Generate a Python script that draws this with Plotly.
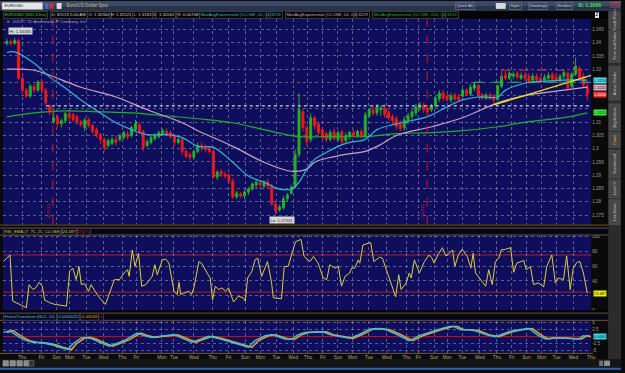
import plotly.graph_objects as go

# ---------------- data ----------------
BAR = list(range(150))
OPEN = [1.3397,1.3404,1.3397,1.3408,1.3266,1.3221,1.3199,1.3236,1.3221,1.3251,
 1.3221,1.3162,1.3102,1.3117,1.3094,1.3106,1.3132,1.3128,1.3121,1.3102,
 1.3080,1.3109,1.3087,1.3072,1.3053,1.3035,1.3012,1.3020,1.3035,1.3035,
 1.3042,1.3057,1.3050,1.3072,1.3091,1.3065,1.3012,1.3024,1.3038,1.3046,
 1.3057,1.3065,1.3061,1.3046,1.3024,1.3035,1.2990,1.2979,1.2968,1.2990,
 1.3012,1.3005,1.3001,1.2990,1.2893,1.2915,1.2904,1.2900,1.2878,1.2818,
 1.2830,1.2822,1.2837,1.2848,1.2863,1.2871,1.2859,1.2874,1.2859,1.2792,
 1.2770,1.2777,1.2811,1.2833,1.2856,1.2979,1.3139,1.3080,1.3035,1.3117,
 1.3094,1.3072,1.3057,1.3035,1.3065,1.3035,1.3065,1.3031,1.3046,1.3061,
 1.3050,1.3065,1.3050,1.3124,1.3147,1.3135,1.3147,1.3154,1.3139,1.3121,
 1.3113,1.3094,1.3080,1.3106,1.3121,1.3135,1.3154,1.3165,1.3154,1.3147,
 1.3162,1.3188,1.3210,1.3199,1.3184,1.3203,1.3195,1.3199,1.3221,1.3206,
 1.3229,1.3236,1.3203,1.3191,1.3203,1.3199,1.3188,1.3236,1.3277,1.3266,
 1.3274,1.3285,1.3266,1.3277,1.3274,1.3259,1.3274,1.3266,1.3259,1.3266,
 1.3281,1.3270,1.3259,1.3274,1.3285,1.3236,1.3281,1.3303,1.3274,1.3234]
HIGH = [1.3415,1.3412,1.3419,1.3415,1.3277,1.3229,1.3244,1.3244,1.3259,1.3259,
 1.3229,1.3169,1.3154,1.3128,1.3113,1.3139,1.3143,1.3135,1.3128,1.3109,
 1.3117,1.3117,1.3094,1.3080,1.3061,1.3042,1.3038,1.3046,1.3050,1.3057,
 1.3068,1.3068,1.3087,1.3109,1.3098,1.3072,1.3035,1.3050,1.3057,1.3068,
 1.3076,1.3076,1.3068,1.3057,1.3042,1.3042,1.2997,1.2986,1.2997,1.3024,
 1.3024,1.3016,1.3009,1.2997,1.2919,1.2923,1.2915,1.2908,1.2889,1.2841,
 1.2837,1.2844,1.2856,1.2874,1.2882,1.2878,1.2882,1.2886,1.2867,1.2800,
 1.2789,1.2822,1.2833,1.2863,1.2997,1.3210,1.3154,1.3091,1.3132,1.3124,
 1.3102,1.3080,1.3065,1.3072,1.3080,1.3068,1.3072,1.3061,1.3068,1.3072,
 1.3072,1.3076,1.3139,1.3154,1.3165,1.3169,1.3162,1.3169,1.3147,1.3132,
 1.3124,1.3109,1.3121,1.3135,1.3147,1.3169,1.3177,1.3173,1.3165,1.3169,
 1.3199,1.3221,1.3221,1.3206,1.3210,1.3210,1.3206,1.3229,1.3229,1.3244,
 1.3251,1.3244,1.3210,1.3210,1.3210,1.3206,1.3244,1.3285,1.3292,1.3292,
 1.3292,1.3292,1.3288,1.3288,1.3285,1.3285,1.3285,1.3277,1.3281,1.3288,
 1.3288,1.3285,1.3281,1.3296,1.3292,1.3292,1.3344,1.3311,1.3285,1.3252]
LOW = [1.3389,1.3389,1.3393,1.3259,1.3210,1.3191,1.3191,1.3210,1.3214,1.3214,
 1.3165,1.3128,1.3094,1.3083,1.3080,1.3098,1.3102,1.3102,1.3091,1.3083,
 1.3065,1.3080,1.3057,1.3042,1.3016,1.2990,1.3005,1.3012,1.3012,1.3027,
 1.3035,1.3035,1.3042,1.3065,1.3057,1.2990,1.3005,1.3016,1.3031,1.3038,
 1.3050,1.3050,1.3038,1.3012,1.3016,1.2975,1.2964,1.2956,1.2960,1.2982,
 1.2990,1.2986,1.2982,1.2886,1.2882,1.2893,1.2889,1.2871,1.2811,1.2811,
 1.2815,1.2811,1.2826,1.2841,1.2852,1.2852,1.2848,1.2848,1.2785,1.2755,
 1.2762,1.2770,1.2800,1.2826,1.2848,1.2968,1.3065,1.3012,1.3024,1.3072,
 1.3050,1.3031,1.3024,1.3027,1.3031,1.3027,1.3016,1.3020,1.3035,1.3042,
 1.3042,1.3038,1.3038,1.3117,1.3124,1.3124,1.3124,1.3117,1.3106,1.3094,
 1.3072,1.3065,1.3068,1.3094,1.3109,1.3124,1.3143,1.3135,1.3128,1.3139,
 1.3154,1.3177,1.3180,1.3177,1.3173,1.3180,1.3177,1.3191,1.3199,1.3199,
 1.3218,1.3195,1.3184,1.3184,1.3184,1.3169,1.3180,1.3229,1.3259,1.3259,
 1.3262,1.3262,1.3259,1.3255,1.3247,1.3251,1.3251,1.3244,1.3251,1.3259,
 1.3251,1.3251,1.3244,1.3262,1.3221,1.3229,1.3274,1.3259,1.3232,1.3181]
CLOSE = [1.3404,1.3397,1.3408,1.3266,1.3221,1.3199,1.3236,1.3221,1.3251,1.3221,
 1.3173,1.3139,1.3117,1.3094,1.3106,1.3132,1.3117,1.3109,1.3102,1.3091,
 1.3109,1.3087,1.3065,1.3053,1.3035,1.3005,1.3031,1.3035,1.3024,1.3050,
 1.3061,1.3046,1.3080,1.3094,1.3065,1.3005,1.3027,1.3042,1.3050,1.3061,
 1.3068,1.3057,1.3046,1.3024,1.3035,1.2990,1.2971,1.2968,1.2990,1.3012,
 1.3005,1.2997,1.2990,1.2893,1.2912,1.2904,1.2897,1.2878,1.2818,1.2833,
 1.2822,1.2837,1.2848,1.2867,1.2874,1.2863,1.2871,1.2859,1.2792,1.2766,
 1.2781,1.2811,1.2826,1.2856,1.2979,1.3147,1.3080,1.3027,1.3117,1.3087,
 1.3061,1.3042,1.3035,1.3061,1.3038,1.3061,1.3027,1.3050,1.3061,1.3050,
 1.3065,1.3046,1.3128,1.3147,1.3135,1.3158,1.3154,1.3128,1.3117,1.3106,
 1.3083,1.3076,1.3109,1.3124,1.3139,1.3158,1.3165,1.3147,1.3139,1.3162,
 1.3191,1.3210,1.3191,1.3184,1.3199,1.3188,1.3184,1.3221,1.3206,1.3232,
 1.3240,1.3203,1.3191,1.3203,1.3191,1.3184,1.3236,1.3274,1.3266,1.3285,
 1.3281,1.3270,1.3277,1.3266,1.3255,1.3274,1.3259,1.3255,1.3270,1.3277,
 1.3262,1.3259,1.3274,1.3288,1.3229,1.3281,1.3311,1.3266,1.3240,1.3206]

EMA20_X = [0,2,7,11,15,19,24,28,32,36,41,45,49,53,58,62,66,70,73,75,77,79,82,85,88,92,95,100,108,113,117,121,126,128,133,138,143,149]
EMA20 = [1.3363,1.3365,1.3322,1.3270,1.3229,1.3184,1.3135,1.3098,1.3072,1.3053,1.3053,1.3042,1.3009,1.3005,1.2949,1.2897,1.2874,1.2848,1.2848,1.2874,1.2923,1.2960,1.2986,1.3009,1.3024,1.3035,1.3072,1.3094,1.3121,1.3158,1.3184,1.3195,1.3195,1.3221,1.3247,1.3255,1.3259,1.3259]
EMA50_X = [0,7,11,19,28,36,45,49,58,66,73,77,79,83,87,92,96,100,109,117,126,134,143,149]
EMA50 = [1.3300,1.3296,1.3277,1.3232,1.3195,1.3147,1.3098,1.3068,1.3009,1.2949,1.2915,1.2923,1.2949,1.2967,1.2979,1.2990,1.3016,1.3050,1.3083,1.3117,1.3173,1.3203,1.3221,1.3232]
EMA200_X = [0,7,15,24,32,41,49,58,66,75,83,92,100,109,117,126,134,143,149]
EMA200 = [1.3120,1.3135,1.3143,1.3139,1.3135,1.3124,1.3113,1.3098,1.3072,1.3046,1.3046,1.3046,1.3057,1.3061,1.3068,1.3083,1.3102,1.3117,1.3135]

TREND_X = [125, 150]
TREND_P = [1.3165, 1.3277]
SUPPORT_P = 1.3162
SUPPORT_FROM = 10
RESIST_P = 1.3296
RESIST_FROM = 127
BOXLOW_P = 1.3251
BOXLOW_FROM = 120
BOXLOW_DROP = 1.3225
EXPIRY_X = [11.8, 107.9]
EXPIRY_TXT = ["6/21/13", "7/19/13"]

RSI_X = [-0.9,0.8,1.5,2.1,3.3,5.0,5.7,6.7,7.4,8.3,9.1,9.7,11.0,12.3,14.0,15.3,16.1,16.9,17.8,18.5,
 19.1,19.9,21.0,21.6,22.9,23.8,25.3,26.3,27.6,28.9,30.1,31.0,31.4,32.2,32.9,33.8,34.6,35.7,37.3,38.0,
 38.6,39.9,40.8,41.6,42.9,43.7,44.2,44.6,45.9,46.7,47.4,48.0,49.3,50.1,51.4,52.2,52.8,53.5,54.4,55.2,
 56.1,56.9,58.2,59.4,60.7,61.2,61.8,62.9,63.7,64.4,65.4,66.9,67.9,68.4,70.5,71.2,72.2,73.1,74.1,75.5,
 76.3,77.8,78.7,79.9,81.2,82.1,82.9,84.2,85.1,85.9,86.8,88.0,88.5,89.3,90.2,90.6,91.4,92.7,93.4,94.2,
 95.7,96.4,97.4,98.7,99.8,100.6,101.2,102.5,103.3,103.8,104.6,105.9,107.2,108.4,109.1,109.7,110.6,111.8,112.7,113.6,
 114.4,115.0,115.9,116.9,118.2,119.1,119.7,120.3,121.2,122.9,123.7,124.6,125.4,126.3,126.9,128.0,129.3,130.1,130.9,132.1,
 132.7,133.3,134.4,135.2,136.5,137.8,138.6,139.9,140.8,141.6,142.9,143.7,144.6,145.4,146.3,147.1,148.0,149.0]
RSI = [66.2,75.1,12.9,11.6,8.4,4.0,35.1,28.4,30.7,38.2,32.9,14.2,10.7,8.4,7.1,6.2,52.9,57.3,41.8,59.6,
 35.1,36.4,26.2,35.1,24.0,17.3,8.4,21.8,41.8,41.8,50.7,55.1,46.2,81.8,59.6,77.3,32.9,35.1,46.2,61.8,
 48.4,68.4,69.3,64.0,26.2,21.8,38.2,21.8,24.0,26.2,21.8,30.7,66.2,63.1,50.7,44.0,14.2,32.9,28.4,30.7,
 26.2,30.7,11.6,19.5,17.3,12.9,44.0,52.9,68.4,70.7,46.2,66.2,39.6,17.3,16.0,59.6,59.6,75.1,92.9,96.0,
 72.9,66.2,72.9,64.0,44.0,41.8,61.8,57.3,59.6,32.9,46.2,50.7,57.3,57.3,68.4,64.0,88.4,90.7,91.6,66.2,
 72.0,70.7,55.1,32.9,18.7,48.4,28.4,37.3,50.7,44.0,68.4,50.7,66.2,75.1,70.7,64.0,75.1,84.9,73.8,77.3,
 81.8,59.6,75.1,82.7,72.9,57.3,77.3,50.7,44.0,32.9,55.1,35.1,66.2,70.7,81.8,82.7,84.9,51.6,64.0,66.2,
 67.6,55.1,59.6,35.1,37.3,32.0,59.6,75.1,37.3,44.0,41.8,73.8,28.4,57.3,64.9,66.2,50.7,23.487]
RSI_OB, RSI_OS = 75, 25

FISH_X = [-0.9,0.8,1.6,3.3,5.0,6.7,9.3,11.8,13.5,15.7,16.9,19.1,20.4,22.0,23.8,26.3,28.9,30.6,32.3,33.5,
 34.8,36.9,39.1,40.8,42.9,45.0,47.5,49.3,51.8,54.4,57.8,62.0,63.7,66.3,68.0,69.7,71.4,73.1,74.8,76.5,
 77.8,79.5,81.2,82.9,84.6,86.3,88.0,90.6,93.1,94.8,97.4,99.9,102.5,103.3,105.9,108.4,111.0,113.6,114.8,115.7,
 116.5,118.6,120.3,122.9,125.4,128.9,131.4,134.0,134.8,136.5,138.2,139.9,142.5,145.0,146.7,148.0,149.0]
FISH = [1.54,2.14,1.29,-0.25,-1.44,-2.04,-2.27,-3.0,-3.82,-4.65,-2.63,-0.49,-0.25,-0.85,-2.04,-3.46,-2.04,-1.08,0.36,1.29,
 0.57,-0.25,0.12,0.36,0.71,-0.49,-2.04,-1.08,0.12,-0.68,-2.04,-3.82,-1.44,0.36,0.71,0.0,-0.85,-0.85,0.71,1.54,
 1.54,1.78,1.78,0.71,0.36,-0.25,-0.6,0.93,2.71,2.95,2.5,0.93,-1.08,-1.44,0.36,1.54,2.71,3.67,3.67,2.95,
 2.5,2.5,2.14,0.71,0.0,1.78,2.5,2.95,2.14,0.36,-0.83,-0.49,-0.49,-0.83,-0.83,0.36,0.0063]

DAY_TICKS = [3.9,8.9,12.8,16.1,20.4,24.8,29.6,33.2,39.8,42.9,48.0,52.8,56.9,61.2,65.1,69.2,73.5,77.3,
 81.1,85.0,88.8,92.9,97.5,102.6,105.6,109.7,113.0,116.9,121.4,125.8,129.6,133.4,137.3,141.1,145.4,150.0]
DAY_NAMES = ["Thu","Fri","Sun","Mon","Tue","Wed","Thu","Fri","Mon","Tue","Wed","Thu","Fri","Sun","Mon","Tue","Wed","Thu",
 "Fri","Sun","Mon","Tue","Wed","Thu","Fri","Sun","Mon","Tue","Wed","Thu","Fri","Sun","Mon","Tue","Wed","Thu"]
PRICE_TICKS = [1.275,1.28,1.285,1.29,1.295,1.3,1.305,1.31,1.315,1.32,1.325,1.33,1.335,1.34,1.345]
# labels under the value boxes (1.315, 1.32, 1.325) are hidden, as in the picture
PRICE_LABELS = ["1.275","1.28","1.285","1.29","1.295","1.3","1.305","1.31","","","","1.33","1.335","1.34","1.345"]
RSI_TICKS = [0,20,40,60,80,100]
RSI_LABELS = ["0","","40","60","80","100"]
FISH_TICKS = [-5,-2.5,2.5,5]
FISH_LABELS = ["-5","-2.5","2.5","5"]

# ---------------- styling ----------------
W, H = 625, 373
def fx(p): return p / W
def fy(p): return 1 - p / H

NAVY = "#0e0e5c"
UP, DN = "#22b322", "#f01818"
CYAN, PINK, GREEN = "#2fb4dc", "#c9a3c6", "#1fae2a"
YEL, RED = "#d9cf3c", "#c41818"
GRID = "rgba(190,190,215,0.45)"
BROWN = "#6b5722"
FONT = "Liberation Sans, Arial, sans-serif"

fig = go.Figure()
fig.add_trace(go.Candlestick(x=BAR, open=OPEN, high=HIGH, low=LOW, close=CLOSE,
    increasing=dict(line=dict(color=UP, width=1), fillcolor=UP),
    decreasing=dict(line=dict(color=DN, width=1), fillcolor=DN),
    whiskerwidth=0, xaxis="x", yaxis="y", hoverinfo="skip"))
for xs, ys, c in [(EMA200_X, EMA200, GREEN), (EMA50_X, EMA50, PINK), (EMA20_X, EMA20, CYAN)]:
    fig.add_trace(go.Scatter(x=xs, y=ys, mode="lines", line=dict(color=c, width=1.2, shape="spline"),
                             xaxis="x", yaxis="y", hoverinfo="skip"))
fig.add_trace(go.Scatter(x=TREND_X, y=TREND_P, mode="lines", line=dict(color="#f2e600", width=1.3),
                         xaxis="x", yaxis="y", hoverinfo="skip"))
fig.add_trace(go.Scatter(x=RSI_X, y=RSI, mode="lines", line=dict(color=YEL, width=1),
                         xaxis="x", yaxis="y2", hoverinfo="skip"))
fig.add_trace(go.Scatter(x=[v + 0.9 for v in FISH_X], y=FISH, mode="lines", line=dict(color="#e0a020", width=1.6),
                         xaxis="x", yaxis="y3", hoverinfo="skip"))
fig.add_trace(go.Scatter(x=FISH_X, y=FISH, mode="lines", line=dict(color="#35c4e8", width=1.4),
                         xaxis="x", yaxis="y3", hoverinfo="skip"))

shapes, ann = [], []
def rect(x0, y0, x1, y1, fill, line=None, lw=0):
    shapes.append(dict(type="rect", xref="paper", yref="paper", x0=fx(x0), x1=fx(x1), y0=fy(y1), y1=fy(y0),
                       fillcolor=fill, line=dict(color=line or fill, width=lw), layer="above"))
def hline(y, x0, x1, color, w=1):
    shapes.append(dict(type="line", xref="paper", yref="paper", x0=fx(x0), x1=fx(x1), y0=fy(y), y1=fy(y),
                       line=dict(color=color, width=w)))
def text(x, y, s, color, size=4.4, xanchor="left", bg="rgba(0,0,0,0)", border=None, angle=0):
    ann.append(dict(xref="paper", yref="paper", x=fx(x), y=fy(y), text=s, showarrow=False, xanchor=xanchor,
                    yanchor="middle", font=dict(size=size, color=color, family=FONT), bgcolor=bg,
                    bordercolor=border or "rgba(0,0,0,0)", borderwidth=1 if border else 0, borderpad=0.4,
                    textangle=angle))

# top toolbar
rect(0, 0, 625, 5, "#3c4a69")
rect(0, 5, 625, 10, "#28334c")
rect(2, 1.5, 43, 8.5, "#e6e6e6", "#9a9a9a", 0.5)
text(4, 5, "EUR/USD", "#202020", 4.2)
rect(45, 2, 49, 8, "#4466cc"); rect(50, 2, 54, 8, "#cc3333"); rect(57, 2, 62, 8, "#dddddd")
text(66, 5, "Euro/US Dollar Spot", "#d4b46a", 4.6)
for xx, s in [(458, "Quick Alt"), (512, "Style"), (531, "Drawings"), (560, "Studies")]:
    text(xx, 5, s, "#c8c8c8", 4.2, border="#55607a")
rect(499, 2, 509, 8, "#d8d8d8")
text(582, 5, "<b>B: 1.3206</b>", "#38e038", 5.2)
text(613, 3, "0.0003", "#ff4040", 3.4)
text(613, 7, "-0.02%", "#ff4040", 3.4)

# header row
rect(0, 10, 612, 18, "#050505")
header = [(3, "EUR/USD (30D 4 hrs)", "#3ad83a"), (50, "D: 8/1/13 5:00 AM", "#d0d0d0"), (88, "O: 1.32344", "#d0d0d0"),
          (110, "H: 1.32521", "#d0d0d0"), (133, "L: 1.31813", "#d0d0d0"), (153, "C: 1.32061", "#d0d0d0"),
          (177, "R: 0.00708", "#d0d0d0"), (200, "MovAvgExponential (CLOSE, 20, 0)", CYAN), (268, "1.3259", CYAN),
          (287, "MovAvgExponential (CLOSE, 50, 0)", PINK), (355, "1.3229", PINK),
          (374, "MovAvgExponential (CLOSE, 200, 0)", GREEN), (445, "1.3133", GREEN)]
for xx, s, c in header:
    text(xx, 14, s, c, 4.3, border="#3a3a3a")
text(599, 14, "<b>Z</b>", "#202020", 4.5, bg="#e0e0e0")

# right side tabs
rect(612, 10, 625, 362, "#2c2c2c")
tabs = [("Trade Flash", 11, 28), ("Time and Sales", 30, 62), ("Active Trader", 66, 100), ("Big Buttons", 104, 131),
        ("Chart", 133, 148), ("Dashboard", 151, 179), ("Level II", 181, 199), ("Live News", 201, 226)]
for s, y0, y1 in tabs:
    rect(613, y0, 624, y1, "#454545", "#606060", 0.5)
    text(618.5, (y0 + y1) / 2, s, "#f0c040" if s == "Chart" else "#c8c8c8", 4.0, xanchor="center", angle=-90)

# panel separators / headers
rect(0, 226, 612, 236.5, "#06061a")
hline(226.5, 0, 612, BROWN); hline(229.5, 0, 612, BROWN); hline(236.5, 0, 612, BROWN)
text(3, 233, "RSI_EMA (7, 75, 25, CLOSE)", YEL, 4.3, border="#3a3a3a")
text(61, 233, "23.487", YEL, 4.3, border="#3a3a3a")
text(76, 233, "25", RED, 4.3, border="#3a3a3a")
text(84, 233, "75", RED, 4.3, border="#3a3a3a")
rect(0, 313, 612, 322.8, "#06061a")
hline(313.5, 0, 612, "#000000", 1.5); hline(315.5, 0, 612, BROWN); hline(322.8, 0, 612, BROWN)
text(3, 319, "FisherTransform (HL2, 10)", "#40c4e8", 4.3, border="#3a3a3a")
text(57, 319, "0.0063025", "#40c4e8", 4.3, border="#3a3a3a")
text(80, 319, "-0.44539", "#e0a020", 4.3, border="#3a3a3a")
text(99, 319, "0", RED, 4.3, border="#3a3a3a")
hline(356.3, 0, 597, BROWN)

# bottom toolbar
rect(0, 362, 625, 373, "#151515")
hline(371.8, 0, 625, "#2b62a8", 2)
for xx in [3, 10, 17, 24]:
    rect(xx, 363.5, xx + 5.5, 369, "#8a8a8a", "#b0b0b0", 0.5)
rect(29, 363.5, 34, 369, "#303030", "#909090", 0.5)
rect(603, 363.5, 607, 369, "#707070"); rect(608, 363.5, 614, 369, "#909090")

# price-panel drawings (data coordinates)
shapes.append(dict(type="line", xref="x", yref="y", x0=SUPPORT_FROM, x1=150, y0=SUPPORT_P, y1=SUPPORT_P,
                   line=dict(color="#d0d0e0", width=1.2, dash="dot")))
shapes.append(dict(type="line", xref="x", yref="y", x0=RESIST_FROM, x1=150, y0=RESIST_P, y1=RESIST_P,
                   line=dict(color="#e02020", width=1, dash="dash")))
shapes.append(dict(type="line", xref="x", yref="y", x0=RESIST_FROM, x1=RESIST_FROM, y0=RESIST_P, y1=BOXLOW_P,
                   line=dict(color="#e02020", width=1, dash="dash")))
shapes.append(dict(type="line", xref="x", yref="y", x0=BOXLOW_FROM, x1=150, y0=BOXLOW_P, y1=BOXLOW_P,
                   line=dict(color="#30d030", width=1, dash="dash")))
shapes.append(dict(type="line", xref="x", yref="y", x0=BOXLOW_FROM, x1=BOXLOW_FROM, y0=BOXLOW_P, y1=BOXLOW_DROP,
                   line=dict(color="#30d030", width=1, dash="dash")))
for ex, et in zip(EXPIRY_X, EXPIRY_TXT):
    shapes.append(dict(type="line", xref="x", yref="paper", x0=ex, x1=ex, y0=fy(226), y1=fy(18),
                       line=dict(color="#d01818", width=1, dash="dash")))
    ann.append(dict(xref="x", yref="paper", x=ex, y=fy(212), text=et, showarrow=False, textangle=-90,
                    xanchor="right", font=dict(size=4.2, color="#d02020", family=FONT)))
for lvl in [RSI_OB, RSI_OS]:
    shapes.append(dict(type="line", xref="paper", yref="y2", x0=fx(3), x1=fx(595), y0=lvl, y1=lvl,
                       line=dict(color=RED, width=1), layer="below"))
shapes.append(dict(type="line", xref="paper", yref="y3", x0=fx(3), x1=fx(595), y0=0, y1=0,
                   line=dict(color=RED, width=1), layer="below"))

# hi / lo bubbles and right value boxes
ann.append(dict(xref="x", yref="y", x=2, y=HIGH[2], text="Hi: 1.34165", showarrow=False, yshift=7, xshift=6,
                font=dict(size=4.2, color="#202020", family=FONT), bgcolor="#d8d8d8", borderpad=0.5))
ann.append(dict(xref="x", yref="y", x=69, y=LOW[69], text="Lo: 1.27531", showarrow=False, yshift=-6, xshift=6,
                font=dict(size=4.2, color="#202020", family=FONT), bgcolor="#d8d8d8", borderpad=0.5))
for val, bg, fg, yref in [(EMA20[-1], "#3fe4f4", "#101010", "y"), (EMA50[-1], "#e6b0c4", "#101010", "y"),
                          (CLOSE[-1], "#f02828", "#ffffff", "y"), (EMA200[-1], "#38f038", "#101010", "y"),
                          (RSI[-1], "#f2f000", "#101010", "y2"), (FISH[-1], "#30d8f0", "#101010", "y3")]:
    s = ("%.3f" % val) if yref == "y2" else ("%.4f" % val)
    ann.append(dict(xref="paper", yref=yref, x=fx(597), y=val, text=s, showarrow=False, xanchor="left",
                    font=dict(size=3.9, color=fg, family=FONT), bgcolor=bg, borderpad=0))

text(8, 21, "●", "#30b030", 5, xanchor="center")
text(12, 21, "2013 © TD Ameritrade IP Company, Inc.", "#a8a8a8", 4.2)

axis_common = dict(showgrid=True, gridcolor=GRID, griddash="dot", gridwidth=1, zeroline=False, showline=False,
                   ticks="", fixedrange=True)
fig.update_layout(
    width=W, height=H, autosize=False, margin=dict(l=0, r=0, t=0, b=0),
    paper_bgcolor="#0a0a0a", plot_bgcolor=NAVY, showlegend=False, hovermode=False,
    font=dict(family=FONT, size=5, color="#9a9a9a"),
    xaxis=dict(domain=[fx(3), fx(595)], range=[-1, 150], anchor="y3", side="bottom",
               tickvals=DAY_TICKS, ticktext=DAY_NAMES, tickfont=dict(size=4.8, color="#bba97a"),
               rangeslider=dict(visible=False), **axis_common),
    yaxis=dict(domain=[fy(226), fy(18)], range=[1.2714, 1.3490], anchor="x", side="right",
               tickvals=PRICE_TICKS, ticktext=PRICE_LABELS, tickfont=dict(size=4.6, color="#9a9a9a"), **axis_common),
    yaxis2=dict(domain=[fy(313), fy(236.5)], range=[0, 102.0], anchor="x", side="right",
                tickvals=RSI_TICKS, ticktext=RSI_LABELS, tickfont=dict(size=4.6, color="#9a9a9a"), **axis_common),
    yaxis3=dict(domain=[fy(356), fy(323)], range=[-5.96, 5.82], anchor="x", side="right",
                tickvals=FISH_TICKS, ticktext=FISH_LABELS, tickfont=dict(size=4.6, color="#9a9a9a"), **axis_common),
    shapes=shapes, annotations=ann,
)
fig.write_html("out.html")
